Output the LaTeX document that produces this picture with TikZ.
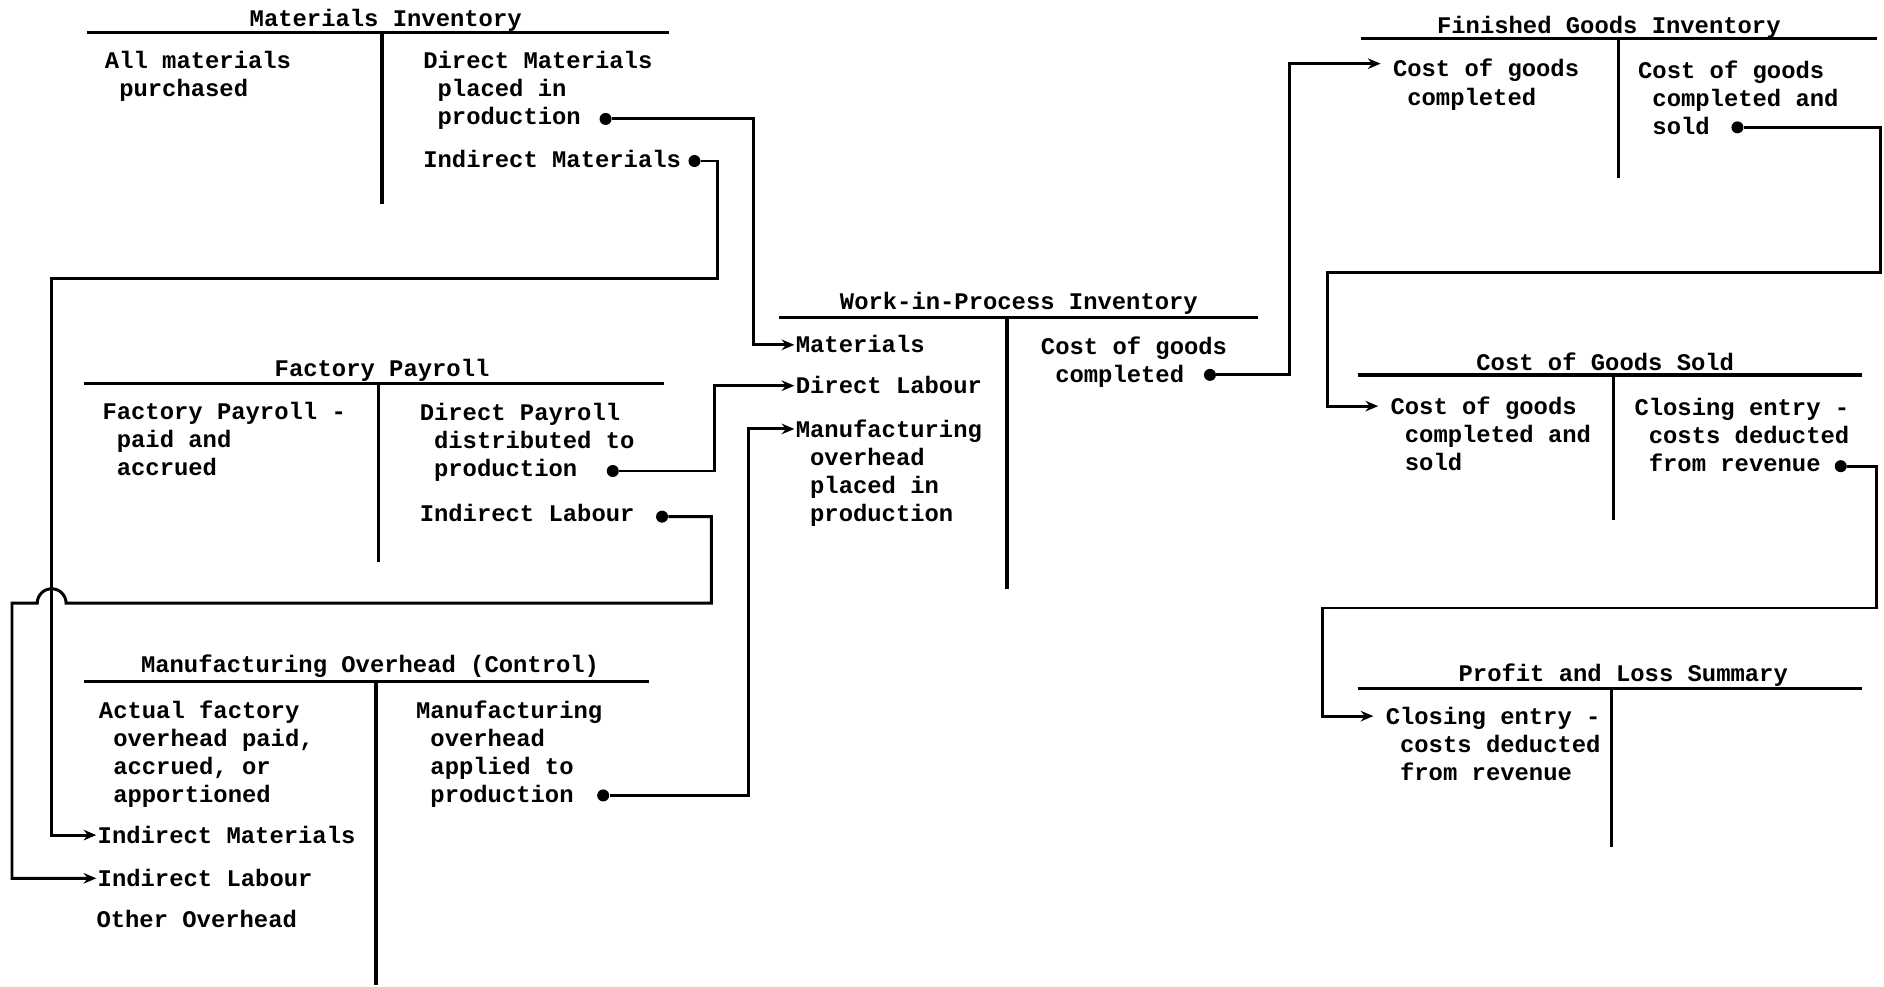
\documentclass[tikz,border=0pt]{standalone}
\usepackage{fontspec}
\newfontfamily\twfont{Liberation Mono}
\usetikzlibrary{arrows.meta}
\newcommand\tind{\phantom{x}}
\begin{document}
\begin{tikzpicture}[x=0.02cm,y=-0.02cm,
  tline/.style={line width=1.6pt},
  conn/.style={line width=1.4pt},
  arr/.style={conn,-{Stealth[length=6pt,width=5pt]},shorten >=0.5pt},
  arrgap/.style={arr,shorten >=0.2cm},
  txt/.style={font=\twfont\bfseries\fontsize{11.3pt}{13.3pt}\selectfont, inner sep=0pt, align=left, anchor=north west},
  ttl/.style={font=\twfont\bfseries\fontsize{11.3pt}{13.3pt}\selectfont, inner sep=0pt, anchor=base},
  dotn/.style={circle, fill, inner sep=0pt, minimum size=0.2cm}]
\useasboundingbox (0,0) rectangle (1568,821);

% ---------- Materials Inventory
\node[ttl] (mi_t) at (321,22) {Materials Inventory};
\draw[tline] (72,27) -- (557,27) (318,27) -- (318,170);
\node[txt] (mi_l) at (87,42) {All materials\\\tind purchased};
\node[txt] (mi_r1) at (352,42) {Direct Materials\\\tind placed in\\\tind production};
\node[txt] (mi_r2) at (352,125) {Indirect Materials};
\node[dotn] (d_mi1) at (504,99) {};
\node[dotn] (d_mi2) at (578,134) {};

% ---------- Factory Payroll
\node[ttl] (fp_t) at (318,313) {Factory Payroll};
\draw[tline] (70,319) -- (553,319) (315,319) -- (315,468);
\node[txt] (fp_l) at (85,334) {Factory Payroll -\\\tind paid and\\\tind accrued};
\node[txt] (fp_r1) at (349,335) {Direct Payroll\\\tind distributed to\\\tind production};
\node[txt] (fp_r2) at (349,419) {Indirect Labour};
\node[dotn] (d_fp1) at (510,392) {};
\node[dotn] (d_fp2) at (551,430) {};

% ---------- Manufacturing Overhead (Control)
\node[ttl] (mo_t) at (308,560) {Manufacturing Overhead (Control)};
\draw[tline] (70,567) -- (540,567) (313,567) -- (313,820);
\node[txt] (mo_l) at (82,583) {Actual factory\\\tind overhead paid,\\\tind accrued, or\\\tind apportioned};
\node[txt] (mo_im) at (81,687) {Indirect Materials};
\node[txt] (mo_il) at (81,723) {Indirect Labour};
\node[txt] (mo_oo) at (80,757) {Other Overhead};
\node[txt] (mo_r) at (346,583) {Manufacturing\\\tind overhead\\\tind applied to\\\tind production};
\node[dotn] (d_mo) at (502,662) {};

% ---------- Work-in-Process Inventory
\node[ttl] (wip_t) at (848,258) {Work-in-Process Inventory};
\draw[tline] (648,264) -- (1047,264) (838,264) -- (838,490);
\node[txt] (wip_m) at (662,279) {Materials};
\node[txt] (wip_dl) at (662,313) {Direct Labour};
\node[txt] (wip_mo) at (662,349) {Manufacturing\\\tind overhead\\\tind placed in\\\tind production};
\node[txt] (wip_r) at (866,280) {Cost of goods\\\tind completed};
\node[dotn] (d_wip) at (1007,312) {};

% ---------- Finished Goods Inventory
\node[ttl] (fg_t) at (1339,28) {Finished Goods Inventory};
\draw[tline] (1133,32) -- (1562,32) (1347,32) -- (1347,148);
\node[txt] (fg_l) at (1159,49) {Cost of goods\\\tind completed};
\node[txt] (fg_r) at (1363,50) {Cost of goods\\\tind completed and\\\tind sold};
\node[dotn] (d_fg) at (1446,106) {};

% ---------- Cost of Goods Sold
\node[ttl] (cg_t) at (1336,308) {Cost of Goods Sold};
\draw[tline] (1130,312) -- (1550,312) (1343,312) -- (1343,433);
\node[txt] (cg_l) at (1157,330) {Cost of goods\\\tind completed and\\\tind sold};
\node[txt] (cg_r) at (1360,331) {Closing entry -\\\tind costs deducted\\\tind from revenue};
\node[dotn] (d_cg) at (1532,388) {};

% ---------- Profit and Loss Summary
\node[ttl] (pl_t) at (1351,567) {Profit and Loss Summary};
\draw[tline] (1130,573) -- (1550,573) (1341,573) -- (1341,705);
\node[txt] (pl_l) at (1153,588) {Closing entry -\\\tind costs deducted\\\tind from revenue};

% ---------- connectors
\coordinate (b1) at (627,99);
\draw[arr] (d_mi1) -| (b1) |- ([yshift=-0.16cm]wip_m.north west);

\coordinate (b2a) at (597,134);
\coordinate (b2b) at (43,232);
\draw[arr] (d_mi2) -| (b2a) |- (b2b) |- ([yshift=-0.16cm]mo_im.north west);

\coordinate (b3) at (595,392);
\draw[arr] (d_fp1) -| (b3) |- ([yshift=-0.16cm]wip_dl.north west);

\coordinate (b4a) at (592,430);
\coordinate (h1) at (55,502);
\coordinate (b4b) at (10,502);
\draw[arr] (d_fp2) -| (b4a) |- (h1) arc[start angle=0,end angle=180,radius=0.24cm] -- (b4b) |- ([yshift=-0.16cm]mo_il.north west);

\coordinate (b5) at (623,662);
\draw[arr] (d_mo) -| (b5) |- ([yshift=-0.16cm]wip_mo.north west);

\coordinate (b6) at (1073,312);
\draw[arrgap] (d_wip) -| (b6) |- ([yshift=-0.08cm]fg_l.north west);

\coordinate (b7a) at (1565,106);
\coordinate (b7b) at (1105,227);
\draw[arrgap] (d_fg) -| (b7a) |- (b7b) |- ([yshift=-0.16cm]cg_l.north west);

\coordinate (b8a) at (1562,388);
\coordinate (b8b) at (1101,506);
\draw[arrgap] (d_cg) -| (b8a) |- (b8b) |- ([yshift=-0.16cm]pl_l.north west);
\end{tikzpicture}
\end{document}
